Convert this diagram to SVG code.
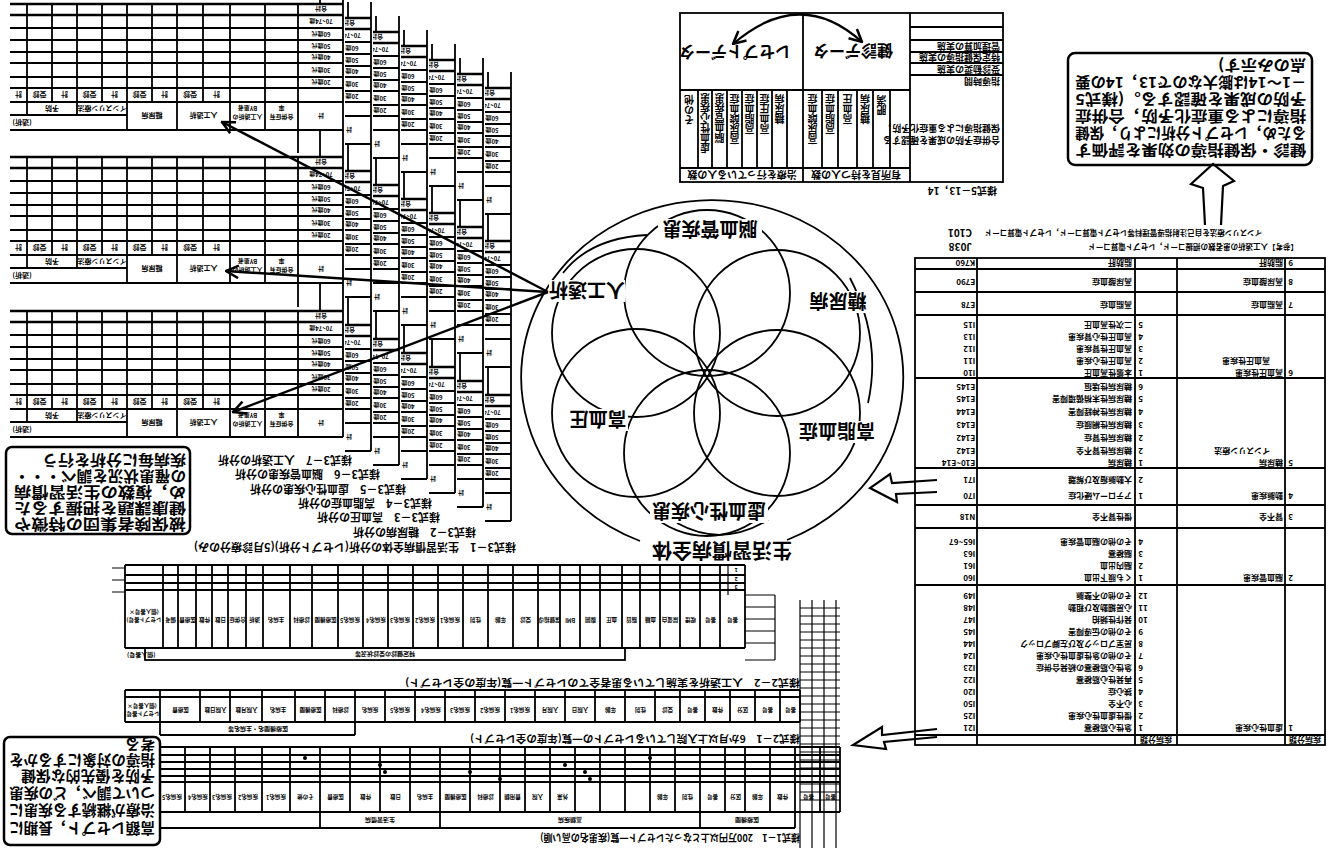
<svg xmlns="http://www.w3.org/2000/svg" width="1343" height="848" viewBox="0 0 1343 848">
<style>
text{font-family:"Noto Sans CJK JP","Noto Sans CJK SC","Noto Sans",sans-serif;font-weight:700;fill:#000;dominant-baseline:central}
.u{transform-box:fill-box;transform-origin:50% 50%;transform:rotate(180deg)}
.s{fill:none;stroke:#000;stroke-width:1.8}
.h{fill:none;stroke:#000;stroke-width:1.2}
.t{fill:none;stroke:#000;stroke-width:2.6}
.f20{font-size:20px}.f19{font-size:19px}.f16{font-size:16px}.f15{font-size:15px}.f14{font-size:14px}.f11{font-size:11px}.f10{font-size:10px}.f9{font-size:9px}.f8{font-size:8px}.f75{font-size:7.5px}.f7{font-size:7px}.f6{font-size:6px}.f5{font-size:5.5px}
.m{text-anchor:middle}.e{text-anchor:end}
.v{writing-mode:vertical-rl}
</style>
<defs>
<marker id="ah" viewBox="0 0 12 12" refX="11" refY="6" markerWidth="15" markerHeight="15" markerUnits="userSpaceOnUse" orient="auto-start-reverse"><path d="M1,1 L11,6 L1,11" fill="none" stroke="#000" stroke-width="2"/></marker>
<g id="zone">
<path class="s" d="M10,28H343M10,40H343M10,52H343M10,63H343M10,77H343M10,88H343M10,102H343M10,130H343M27,4V102M52,4V102M77,4V102M102,4V102M127,4V130M152,4V102M177,4V130M203,4V102M230,4V130M265,4V130M298,4V130M10,115H127M27,102V115M77,102V115"/>
<path class="t" d="M10,4H343M10,15H343"/>
<text class="u f7 m" x="18.5" y="95">計</text><text class="u f7 m" x="39.5" y="95">受診</text><text class="u f7 m" x="64.5" y="95">計</text><text class="u f7 m" x="89.5" y="95">受診</text><text class="u f7 m" x="114.5" y="95">計</text><text class="u f7 m" x="139.5" y="95">受診</text><text class="u f7 m" x="164.5" y="95">計</text><text class="u f7 m" x="190" y="95">受診</text><text class="u f7 m" x="216.5" y="95">計</text>
<text class="u f7 m" x="52" y="108.5">予防</text><text class="u f7 m" x="102" y="108.5">インスリン療法</text>
<text class="u f7" x="12" y="122.5">(透析)</text>
<text class="u f7 m" x="152" y="116">糖尿病</text><text class="u f7 m" x="203.5" y="116">人工透析</text>
<text class="u f6 m" x="247.5" y="117">人工透析の</text><text class="u f6 m" x="247.5" y="108">BY患者</text>
<text class="u f6 m" x="281.5" y="117">合併症有</text><text class="u f6 m" x="281.5" y="108">率</text>
<text class="u f6 m" x="321" y="9.5">合計</text><text class="u f6 m" x="321" y="21.5">70~74歳</text><text class="u f6 m" x="321" y="34">60歳代</text><text class="u f6 m" x="321" y="46">50歳代</text><text class="u f6 m" x="321" y="57.5">40歳代</text><text class="u f6 m" x="321" y="70">30歳代</text><text class="u f6 m" x="321" y="82.5">20歳代</text><text class="u f6 m" x="321" y="116">計</text>
</g>
<g id="sheet">
<rect x="-5" y="-12" width="350" height="480" fill="#fff"/>
<path class="s" d="M343,-12V437M298,130V153M298,283V307M320,-12V4M320,130V157M320,283V311"/>
<use href="#zone"/><use href="#zone" y="153"/><use href="#zone" y="307"/>
</g>
</defs>
<rect width="1343" height="848" fill="#fff"/>

<g id="forms-3">
<use href="#sheet" transform="translate(168,84)"/>
<use href="#sheet" transform="translate(140,70)"/>
<use href="#sheet" transform="translate(112,56)"/>
<use href="#sheet" transform="translate(84,42)"/>
<use href="#sheet" transform="translate(56,28)"/>
<use href="#sheet" transform="translate(28,14)"/>
<use href="#sheet"/>
<text class="u f11 e" x="516" y="548">様式3－1　生活習慣病全体の分析(レセプト分析)(5月診療分のみ)</text>
<text class="u f11 e" x="476" y="533">様式3－2　糖尿病の分析</text>
<text class="u f11 e" x="440" y="518">様式3－3　高血圧の分析</text>
<text class="u f11 e" x="432" y="504">様式3－4　高脂血症の分析</text>
<text class="u f11 e" x="406" y="490">様式3－5　虚血性心疾患の分析</text>
<text class="u f11 e" x="380" y="475">様式3－6　脳血管疾患の分析</text>
<text class="u f11 e" x="352" y="461">様式3－7　人工透析の分析</text>
</g>

<g id="note-group">
<rect x="6" y="447" width="184" height="87" rx="6" fill="#fff" stroke="#000" stroke-width="2.5"/>
<text class="u f15"><tspan x="14" y="462" textLength="172" lengthAdjust="spacingAndGlyphs">被保険者集団の特徴や</tspan><tspan x="14" y="478" textLength="172" lengthAdjust="spacingAndGlyphs">健康課題を把握するた</tspan><tspan x="14" y="494" textLength="172" lengthAdjust="spacingAndGlyphs">め，複数の生活習慣病</tspan><tspan x="14" y="510" textLength="172" lengthAdjust="spacingAndGlyphs">の罹患状況を調べ・・・</tspan><tspan x="14" y="526" textLength="144" lengthAdjust="spacingAndGlyphs">疾病毎に分析を行う</tspan></text>
</g>

<g id="venn">
<path class="s" d="M787,540 A191,177 0 1 0 640,541" stroke-width="2.2"/>
<circle class="s" cx="707" cy="293" r="83"/>
<circle class="s" cx="777" cy="333" r="83"/>
<circle class="s" cx="777" cy="413" r="83"/>
<circle class="s" cx="707" cy="453" r="83"/>
<circle class="s" cx="636" cy="413" r="84"/>
<circle class="s" cx="636" cy="333" r="84"/>
<path class="s" d="M563,273 Q590,238 647,235 M850,278 Q882,340 868,403 M677,523 Q722,548 768,520"/>
<rect x="658" y="219" width="104" height="22" fill="#fff"/>
<rect x="808" y="291" width="60" height="22" fill="#fff"/>
<rect x="797" y="421" width="80" height="22" fill="#fff"/>
<rect x="650" y="501" width="118" height="22" fill="#fff"/>
<rect x="568" y="409" width="60" height="22" fill="#fff"/>
<rect x="549" y="280" width="76" height="22" fill="#fff"/>
<text class="u f19 m" x="710" y="230">脳血管疾患</text>
<text class="u f19 m" x="838" y="302">糖尿病</text>
<text class="u f19 m" x="837" y="432">高脂血症</text>
<text class="u f19 m" x="709" y="512">虚血性心疾患</text>
<text class="u f19 m" x="598" y="420">高血圧</text>
<text class="u f19 m" x="587" y="291">人工透析</text>
<text class="u f20 m" x="722" y="551">生活習慣病全体</text>
</g>

<g id="form-5-13">
<rect class="s" x="680" y="13" width="323" height="169"/>
<path class="s" d="M803,13V182M910,13V182M680,90H910M680,168H910M698,90V168M712,90V168M727,90V168M742,90V168M757,90V168M772,90V168M787,90V168M822,90V168M838,90V168M857,90V168M873,90V168M890,90V168M910,27H1003M910,40H1003M910,52H1003M910,63H1003M910,75H1003"/>
<text class="u f16 m" x="735" y="53">レセプトデータ</text>
<text class="u f16 m" x="853" y="52">健診データ</text>
<text class="u f10 v" x="689" y="94">その他</text>
<text class="u f10 v" x="705" y="94">虚血性心疾患</text>
<text class="u f10 v" x="719.5" y="94">脳血管疾患</text>
<text class="u f10 v" x="734.5" y="94">高尿酸血症</text>
<text class="u f10 v" x="749.5" y="94">高脂血症</text>
<text class="u f10 v" x="764.5" y="94">高血圧症</text>
<text class="u f10 v" x="779.5" y="94">糖尿病</text>
<text class="u f10 v" x="812.5" y="94">高尿酸血症</text>
<text class="u f10 v" x="830" y="94">高脂血症</text>
<text class="u f10 v" x="847.5" y="94">高血圧</text>
<text class="u f10 v" x="865" y="94">糖尿病</text>
<text class="u f10 v" x="881.5" y="94">肥満</text>
<text class="u f10 m" x="742" y="175">治療を行っている人の数</text>
<text class="u f10 m" x="856" y="175">有所見を持つ人の数</text>
<text class="u f9 e" x="1000" y="46">管理加算の実施</text>
<text class="u f9 e" x="1000" y="57.5">特定保健指導の実施</text>
<text class="u f9 e" x="1000" y="69">受診勧奨の実施</text>
<text class="u f9 e" x="1000" y="81">指導時間</text>
<text class="u f9 e" x="1000" y="128">保健指導による重症化予防，</text>
<text class="u f9 e" x="1000" y="140">合併症予防の成果を確認する</text>
<text class="u f10 e" x="997" y="191">様式5－13，14</text>
</g>

<g id="note-effect">
<rect x="1068" y="53" width="244" height="112" rx="7" fill="#fff" stroke="#000" stroke-width="2.5"/>
<text class="u f15"><tspan x="1075" y="67" textLength="231" lengthAdjust="spacingAndGlyphs">健診・保健指導の効果を評価す</tspan><tspan x="1075" y="84" textLength="231" lengthAdjust="spacingAndGlyphs">るため，レセプト分析により，保健</tspan><tspan x="1075" y="101" textLength="231" lengthAdjust="spacingAndGlyphs">指導による重症化予防，合併症</tspan><tspan x="1075" y="118" textLength="231" lengthAdjust="spacingAndGlyphs">予防の成果を確認する。(様式5</tspan><tspan x="1075" y="135" textLength="231" lengthAdjust="spacingAndGlyphs">－1～14は膨大なので13，14の要</tspan><tspan x="1075" y="152" textLength="88" lengthAdjust="spacingAndGlyphs">点のみ示す)</tspan></text>
</g>

<g id="tbl-codes">
<text class="u f75 e" x="1262" y="233">インスリン療法を自己注射指導管理料等レセプト電算コード，レセプト電算コード</text>
<text class="u f10 e" x="972" y="233">C101</text>
<text class="u f75 e" x="1298" y="247">【参考】人工透析の患者数の把握コード，レセプト電算コード</text>
<text class="u f10 e" x="972" y="247">J038</text>
<rect class="s" x="915" y="258" width="410" height="487"/>
<path class="s" d="M977,258V745M1135,258V745M1177,258V745M1285,258V745M915,269H1325M915,292H1325M915,315H1325M915,378H1325M915,468H1325M915,505H1325M915,528H1325M915,585H1325M915,735H1325"/>
<g class="f8">
<text class="u e" x="975" y="263">K760</text><text class="u e" x="1132" y="263">脂肪肝</text><text class="u e" x="1283" y="263">脂肪肝</text><text class="u" x="1288" y="263">9</text>
<text class="u e" x="975" y="282">E790</text><text class="u e" x="1132" y="282">高尿酸血症</text><text class="u e" x="1283" y="282">高尿酸血症</text><text class="u" x="1288" y="282">8</text>
<text class="u e" x="975" y="305">E78</text><text class="u e" x="1132" y="305">高脂血症</text><text class="u e" x="1283" y="305">高脂血症</text><text class="u" x="1288" y="305">7</text>
<text class="u e" x="975" y="325">I15</text><text class="u e" x="1132" y="325">二次性高血圧</text><text class="u" x="1138" y="325">5</text>
<text class="u e" x="975" y="337">I13</text><text class="u e" x="1132" y="337">高血圧性心腎疾患</text><text class="u" x="1138" y="337">4</text>
<text class="u e" x="975" y="349">I12</text><text class="u e" x="1132" y="349">高血圧性腎疾患</text><text class="u" x="1138" y="349">3</text>
<text class="u e" x="975" y="361">I11</text><text class="u e" x="1132" y="361">高血圧性心疾患</text><text class="u" x="1138" y="361">2</text><text class="u e" x="1270" y="361">高血圧性疾患</text>
<text class="u e" x="975" y="373">I10</text><text class="u e" x="1132" y="373">本態性高血圧</text><text class="u" x="1138" y="373">1</text><text class="u e" x="1283" y="373">高血圧性疾患</text><text class="u" x="1288" y="373">6</text>
<text class="u e" x="975" y="387">E145</text><text class="u e" x="1132" y="387">糖尿病性壊疽</text><text class="u" x="1138" y="387">6</text>
<text class="u e" x="975" y="399">E145</text><text class="u e" x="1132" y="399">糖尿病性末梢循環障害</text><text class="u" x="1138" y="399">5</text>
<text class="u e" x="975" y="412">E144</text><text class="u e" x="1132" y="412">糖尿病性神経障害</text><text class="u" x="1138" y="412">4</text>
<text class="u e" x="975" y="425">E143</text><text class="u e" x="1132" y="425">糖尿病性網膜症</text><text class="u" x="1138" y="425">3</text>
<text class="u e" x="975" y="438">E142</text><text class="u e" x="1132" y="438">糖尿病性腎症</text><text class="u" x="1138" y="438">2</text>
<text class="u e" x="975" y="451">E142</text><text class="u e" x="1132" y="451">糖尿病性腎不全</text><text class="u" x="1138" y="451">2</text><text class="u e" x="1270" y="451">インスリン療法</text>
<text class="u e" x="975" y="463">E10~E14</text><text class="u e" x="1132" y="463">糖尿病</text><text class="u" x="1138" y="463">1</text><text class="u e" x="1283" y="463">糖尿病</text><text class="u" x="1288" y="463">5</text>
<text class="u e" x="975" y="480">I71</text><text class="u e" x="1132" y="480">大動脈瘤及び解離</text><text class="u" x="1138" y="480">2</text>
<text class="u e" x="975" y="496">I70</text><text class="u e" x="1132" y="496">アテローム硬化症</text><text class="u" x="1138" y="496">1</text><text class="u e" x="1283" y="496">動脈疾患</text><text class="u" x="1288" y="496">4</text>
<text class="u e" x="975" y="517">N18</text><text class="u e" x="1132" y="517">慢性腎不全</text><text class="u e" x="1283" y="517">腎不全</text><text class="u" x="1288" y="517">3</text>
<text class="u e" x="975" y="542">I65~67</text><text class="u e" x="1132" y="542">その他の脳血管疾患</text><text class="u" x="1138" y="542">4</text>
<text class="u e" x="975" y="554">I63</text><text class="u e" x="1132" y="554">脳梗塞</text><text class="u" x="1138" y="554">3</text>
<text class="u e" x="975" y="566">I61</text><text class="u e" x="1132" y="566">脳内出血</text><text class="u" x="1138" y="566">2</text>
<text class="u e" x="975" y="578">I60</text><text class="u e" x="1132" y="578">くも膜下出血</text><text class="u" x="1138" y="578">1</text><text class="u e" x="1283" y="578">脳血管疾患</text><text class="u" x="1288" y="578">2</text>
<text class="u e" x="975" y="596">I49</text><text class="u e" x="1132" y="596">その他の不整脈</text><text class="u" x="1138" y="596">12</text>
<text class="u e" x="975" y="608">I48</text><text class="u e" x="1132" y="608">心房細動及び粗動</text><text class="u" x="1138" y="608">11</text>
<text class="u e" x="975" y="620">I47</text><text class="u e" x="1132" y="620">発作性頻拍</text><text class="u" x="1138" y="620">10</text>
<text class="u e" x="975" y="632">I45</text><text class="u e" x="1132" y="632">その他の伝導障害</text><text class="u" x="1138" y="632">9</text>
<text class="u e" x="975" y="644">I44</text><text class="u e" x="1132" y="644">房室ブロック及び左脚ブロック</text><text class="u" x="1138" y="644">8</text>
<text class="u e" x="975" y="656">I24</text><text class="u e" x="1132" y="656">その他の急性虚血性心疾患</text><text class="u" x="1138" y="656">7</text>
<text class="u e" x="975" y="668">I23</text><text class="u e" x="1132" y="668">急性心筋梗塞の続発合併症</text><text class="u" x="1138" y="668">6</text>
<text class="u e" x="975" y="680">I22</text><text class="u e" x="1132" y="680">再発性心筋梗塞</text><text class="u" x="1138" y="680">5</text>
<text class="u e" x="975" y="692">I20</text><text class="u e" x="1132" y="692">狭心症</text><text class="u" x="1138" y="692">4</text>
<text class="u e" x="975" y="704">I50</text><text class="u e" x="1132" y="704">心不全</text><text class="u" x="1138" y="704">3</text>
<text class="u e" x="975" y="716">I25</text><text class="u e" x="1132" y="716">慢性虚血性心疾患</text><text class="u" x="1138" y="716">2</text>
<text class="u e" x="975" y="728">I21</text><text class="u e" x="1132" y="728">急性心筋梗塞</text><text class="u" x="1138" y="728">1</text><text class="u e" x="1283" y="728">虚血性心疾患</text><text class="u" x="1288" y="728">1</text>
<text class="u m" x="1156" y="740">疾病分類</text><text class="u m" x="1305" y="740">疾病分類</text>
</g>
</g>

<g id="forms-2-1">
<path class="h" d="M112,568H125M112,580H125M112,592H125"/>
<path class="s" d="M125,565H745M125,575H745M125,583H745M125,590H745M125,648H745M125,565V648M163,565V648M178,565V648M196,565V648M212,565V648M228,565V648M246,565V648M263,565V648M290,565V648M312,565V648M338,565V648M363,565V648M388,565V648M413,565V648M438,565V648M463,565V648M488,565V648M513,565V648M538,565V648M560,565V648M580,565V648M600,565V648M622,565V648M640,565V648M660,565V648M680,565V648M700,565V648M720,565V648M745,565V648"/>
<path class="h" d="M728,565V595M745,595H775M745,607H775M745,619H775M745,631H775M745,643H775M775,595V660M745,660H775"/>
<g class="f5">
<text class="u m" x="350" y="620">疾病名5</text><text class="u m" x="375" y="620">疾病名4</text><text class="u m" x="400" y="620">疾病名3</text><text class="u m" x="425" y="620">疾病名2</text><text class="u m" x="450" y="620">疾病名1</text>
<text class="u m" x="144" y="612">(個人番号×</text><text class="u m" x="144" y="620">レセプト番号)</text>
<text class="u m" x="170" y="620">備考</text><text class="u m" x="187" y="620">医療費</text><text class="u m" x="204" y="620">件数</text><text class="u m" x="220" y="620">日数</text><text class="u m" x="237" y="620">合併症</text><text class="u m" x="254" y="620">透析</text><text class="u m" x="276" y="620">主病名</text><text class="u m" x="301" y="620">診療科</text><text class="u m" x="325" y="620">医療機関</text>
<text class="u m" x="475" y="620">性別</text><text class="u m" x="500" y="620">年齢</text><text class="u m" x="525" y="620">受診</text><text class="u m" x="549" y="620">保健指導</text><text class="u m" x="570" y="620">BMI</text><text class="u m" x="590" y="620">腹囲</text><text class="u m" x="611" y="620">血圧</text><text class="u m" x="631" y="620">脂質</text><text class="u m" x="650" y="620">血糖</text><text class="u m" x="670" y="620">尿蛋白</text><text class="u m" x="690" y="620">喫煙</text><text class="u m" x="710" y="620">番号</text><text class="u m" x="732" y="620">番号</text>
<text class="u m" x="736" y="570">1</text><text class="u m" x="736" y="579">2</text><text class="u m" x="736" y="587">3</text>
</g>
<rect class="s" x="145" y="648" width="480" height="12"/>
<text class="u f6 m" x="385" y="654">特定健診の受診状況等</text>
<text class="u f6" x="127" y="655">(個人番号)</text>
<text class="u f10 e" x="800" y="683" textLength="395" lengthAdjust="spacingAndGlyphs">様式2－2　人工透析を実施している患者全てのレセプト一覧(年度の全レセプト)</text>
<path class="s" d="M125,690H800M125,697H800M125,722H800M125,690V722M160,690V735M200,690V722M230,690V722M262,690V722M295,690V722M325,690V722M355,690V735M385,690V722M415,690V722M445,690V722M475,690V722M505,690V722M535,690V722M565,690V722M595,690V722M625,690V722M655,690V722M680,690V722M705,690V722M730,690V722M755,690V722M780,690V722M800,690V722M160,735H355"/>
<g class="f5">
<text class="u m" x="400" y="710">疾病名5</text><text class="u m" x="430" y="710">疾病名4</text><text class="u m" x="460" y="710">疾病名3</text><text class="u m" x="490" y="710">疾病名2</text><text class="u m" x="520" y="710">疾病名1</text>
<text class="u m" x="142" y="706">(個人番号×</text><text class="u m" x="142" y="714">レセプト番号)</text>
<text class="u m" x="180" y="710">医療費</text><text class="u m" x="215" y="710">入院日数</text><text class="u m" x="246" y="710">入院月数</text><text class="u m" x="278" y="710">主病名</text><text class="u m" x="310" y="710">医療機関</text><text class="u m" x="340" y="710">診療科</text><text class="u m" x="370" y="710">疾病名</text>
<text class="u m" x="550" y="710">入院月</text><text class="u m" x="580" y="710">入院日</text><text class="u m" x="610" y="710">年齢</text><text class="u m" x="640" y="710">性別</text><text class="u m" x="667" y="710">受診</text><text class="u m" x="692" y="710">番号</text><text class="u m" x="717" y="710">件数</text><text class="u m" x="742" y="710">区分</text><text class="u m" x="767" y="710">番号</text><text class="u m" x="790" y="710">番号</text>
</g>
<text class="u f6 m" x="258" y="729">医療機関名・主病名等</text>
<text class="u f10 e" x="800" y="739" textLength="330" lengthAdjust="spacingAndGlyphs">様式2－1　6か月以上入院しているレセプトの一覧(年度の全レセプト)</text>
<path class="s" d="M160,747H840M160,755H840M160,762H840M160,769H840M160,776H840M160,782H840M160,812H840M160,747V828M185,747V812M210,747V812M235,747V812M262,747V812M290,747V812M320,747V828M350,747V812M380,747V812M410,747V812M440,747V828M470,747V812M500,747V812M525,747V812M550,747V812M575,747V812M600,747V812M625,747V812M650,747V812M675,747V812M700,747V828M725,747V812M745,747V812M770,747V812M795,747V828M820,747V812M840,747V812M160,828H795"/>
<g fill="#000"><circle cx="305" cy="758" r="2"/><circle cx="380" cy="765" r="2"/><circle cx="385" cy="772" r="2"/><circle cx="470" cy="772" r="2"/><circle cx="500" cy="779" r="2"/><circle cx="565" cy="765" r="2"/><circle cx="585" cy="772" r="2"/><circle cx="590" cy="779" r="2"/><circle cx="650" cy="758" r="2"/></g>
<g class="f5">
<text class="u m" x="172" y="797">疾病名5</text><text class="u m" x="197" y="797">疾病名4</text><text class="u m" x="222" y="797">疾病名3</text><text class="u m" x="248" y="797">疾病名2</text><text class="u m" x="276" y="797">疾病名1</text><text class="u m" x="305" y="797">その他</text>
<text class="u m" x="335" y="797">医療費</text><text class="u m" x="365" y="797">件数</text><text class="u m" x="395" y="797">日数</text><text class="u m" x="425" y="797">主病名</text><text class="u m" x="455" y="797">医療機関</text><text class="u m" x="485" y="797">診療科</text><text class="u m" x="512" y="797">費用額</text><text class="u m" x="537" y="797">入院</text><text class="u m" x="562" y="797">外来</text>
<text class="u m" x="662" y="797">年齢</text><text class="u m" x="687" y="797">性別</text><text class="u m" x="712" y="797">番号</text><text class="u m" x="735" y="797">区分</text><text class="u m" x="757" y="797">年齢</text><text class="u m" x="782" y="797">件数</text><text class="u m" x="808" y="797">番号</text><text class="u m" x="830" y="797">番号</text>
</g>
<text class="u f6 m" x="380" y="820">生活習慣病</text><text class="u f6 m" x="570" y="820">高額疾病</text><text class="u f6 m" x="747" y="820">医療機関</text>
<text class="u f10 e" x="800" y="838" textLength="260" lengthAdjust="spacingAndGlyphs">様式1－1　200万円以上となったレセプト一覧(疾患名の高い順)</text>
<path class="h" d="M800,600V848M812,600V848M824,600V848M836,600V848M800,608H840M800,616H840M800,624H840M800,632H840M800,640H840M800,648H840M800,656H840M800,664H840M800,672H840M800,680H840M800,688H840M800,696H840M800,704H840M800,712H840M800,720H840M800,728H840M800,736H840M800,744H840M800,752H840M800,760H840M800,768H840M800,776H840M800,784H840M800,792H840M800,800H840"/>
</g>

<g id="note-high-cost">
<rect x="4" y="737" width="156" height="108" rx="6" fill="#fff" stroke="#000" stroke-width="2.5"/>
<text class="u f15"><tspan x="9" y="746" textLength="146" lengthAdjust="spacingAndGlyphs">高額レセプト，長期に</tspan><tspan x="9" y="764" textLength="146" lengthAdjust="spacingAndGlyphs">治療が継続する疾患に</tspan><tspan x="9" y="781" textLength="146" lengthAdjust="spacingAndGlyphs">ついて調べ，どの疾患</tspan><tspan x="9" y="798" textLength="134" lengthAdjust="spacingAndGlyphs">予防を優先的な保健</tspan><tspan x="9" y="814" textLength="146" lengthAdjust="spacingAndGlyphs">指導の対象にするかを</tspan><tspan x="9" y="830">考る</tspan></text>
</g>

<g id="connectors" fill="none" stroke="#000">
<path d="M548,292 L222,122" stroke-width="2.5" marker-end="url(#ah)"/>
<path d="M548,292 L226,271" stroke-width="2.5" marker-end="url(#ah)"/>
<path d="M548,292 L233,412" stroke-width="2.5" marker-end="url(#ah)"/>
<path d="M733,44 Q800,-14 862,42" stroke-width="2.2" marker-start="url(#ah)" marker-end="url(#ah)"/>
<path d="M937,480 L892,483 L890,474 L870,488 L897,502 L896,494 L937,492" stroke-width="2.2"/>
<path d="M937,729 L882,735 L882,727 L853,745 L886,749 L884,742 L937,737" stroke-width="2.2"/>
<path d="M1205,225 L1203,188 L1191,184 L1213,164 L1234,181 L1223,186 L1221,225" stroke-width="2.2"/>
</g>
</svg>
